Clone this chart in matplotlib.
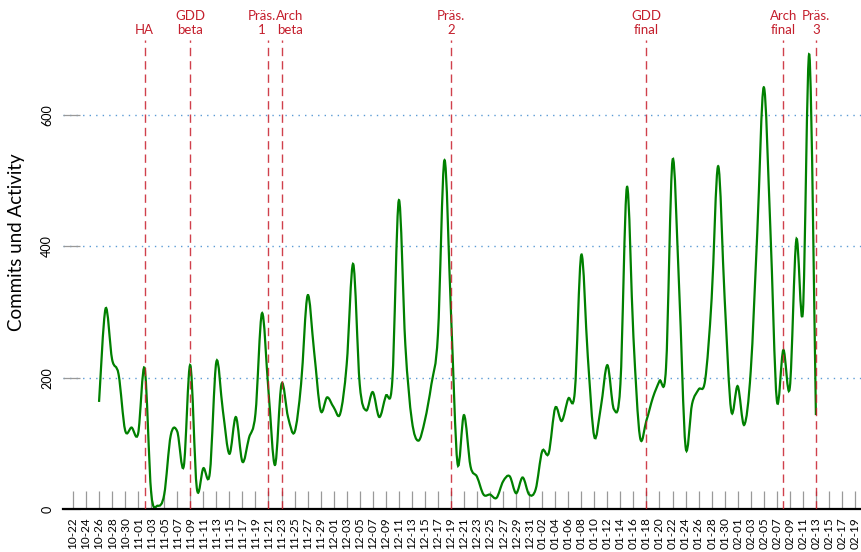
import numpy as np
import pandas as pd
import matplotlib
matplotlib.use('Agg')
import matplotlib.pyplot as plt
import matplotlib.dates as mdates
from matplotlib.path import Path
from matplotlib.patches import PathPatch

plt.rcParams['font.family'] = ['Lato', 'DejaVu Sans']

# Daten: Commits und Activity pro Tag (26.10. bis 13.02.)
tage = pd.date_range('2012-10-26', '2013-02-13', freq='D')
commits = [
    163, 305, 228, 205, 120, 124, 115,                      # 10-26 .. 11-01
    214, 25, 5, 22, 112, 118, 65, 219, 32, 62, 55, 224,     # 11-02 .. 11-13
    150, 84, 140, 72, 108, 145, 298, 180, 67, 190, 140,     # 11-14 .. 11-24
    117, 190, 325, 240, 150, 170,                           # 11-25 .. 11-30
    155, 145, 220, 373, 190, 150, 178, 140, 172, 195, 470,  # 12-01 .. 12-11
    250, 135, 104, 135, 190, 265, 531, 300, 70, 143, 65,    # 12-12 .. 12-22
    49, 22, 22, 17, 42, 50, 24, 48, 22,                     # 12-23 .. 12-31
    30, 88, 85, 154, 134, 168, 178, 387, 232, 110, 155,     # 01-01 .. 01-11
    219, 152, 190, 490, 262, 110, 135, 170, 195, 215, 531,  # 01-12 .. 01-22
    340, 95, 160, 182, 196, 320, 522, 320, 150,             # 01-23 .. 01-31
    187, 128, 210, 420, 642, 430, 166, 242, 185, 410, 300,  # 02-01 .. 02-11
    691, 143,                                               # 02-12 .. 02-13
]

# Meilensteine
meilensteine = pd.to_datetime(['2012-11-02', '2012-11-09', '2012-11-21', '2012-11-23',
                               '2012-12-19', '2013-01-18', '2013-02-08', '2013-02-13'])
meilenstein_namen = ['HA', 'GDD\nbeta', 'Präs.\n1', 'Arch\nbeta',
                     'Präs.\n2', 'GDD\nfinal', 'Arch\nfinal', 'Präs.\n3']
versatz = [0, 0, -4.5, 6, 0, 0, 0, 0]  # Textverschiebung in pt

# Achsenbeschriftung alle 2 Tage
ticks = pd.date_range('2012-10-22', '2013-02-19', freq='2D')

fig = plt.figure(figsize=(8.61, 5.52), dpi=100)
ax = fig.add_axes([63 / 861, 43 / 552, 798 / 861, 469 / 552])

# geglaettete Linie (Catmull-Rom als Bezier-Pfad)
x = mdates.date2num(tage)
y = np.array(commits, dtype=float)
xp = np.concatenate([[x[0]], x, [x[-1]]])
yp = np.concatenate([[y[0]], y, [y[-1]]])
verts = [(x[0], y[0])]
codes = [Path.MOVETO]
for i in range(len(x) - 1):
    c1 = (xp[i + 1] + (xp[i + 2] - xp[i]) / 6, yp[i + 1] + (yp[i + 2] - yp[i]) / 6)
    c2 = (xp[i + 2] - (xp[i + 3] - xp[i + 1]) / 6, yp[i + 2] - (yp[i + 3] - yp[i + 1]) / 6)
    verts += [c1, c2, (xp[i + 2], yp[i + 2])]
    codes += [Path.CURVE4] * 3
ax.add_patch(PathPatch(Path(verts, codes), facecolor='none', edgecolor='#008000',
                       linewidth=1.6, zorder=2))

for d, name, dx in zip(meilensteine, meilenstein_namen, versatz):
    ax.axvline(d, color='#c81e2c', linestyle=(0, (6, 3.6)), linewidth=1.0,
               alpha=0.85, zorder=3)
    ax.annotate(name, xy=(d, 1), xycoords=('data', 'axes fraction'),
                xytext=(dx, 3), textcoords='offset points', ha='center', va='bottom',
                color='#c41e2c', fontsize=9.5, annotation_clip=False)

ax.set_xlim(mdates.date2num(ticks[0]) - 1.53, mdates.date2num(ticks[-1]) + 0.92)
ax.set_ylim(0, 714)

ax.set_xticks(ticks)
ax.xaxis.set_major_formatter(mdates.DateFormatter('%m-%d'))
ax.tick_params(axis='x', direction='in', length=13, width=0.9, color='#999999',
               labelrotation=90, labelsize=8.5, pad=6)
ax.set_yticks([0, 200, 400, 600])
ax.set_yticklabels(['0', '200', '400', '600'], rotation=90, va='center')
ax.tick_params(axis='y', direction='in', length=12, width=0.9, color='#999999',
               labelsize=9, pad=7)

ax.yaxis.grid(True, linestyle=(0, (1, 3.7)), color='#5b9bd5', linewidth=1)
ax.set_axisbelow(True)

for s in ['left', 'top', 'right']:
    ax.spines[s].set_visible(False)
ax.spines['bottom'].set_linewidth(1.6)

ax.set_ylabel('Commits und Activity', fontsize=13.5)
ax.yaxis.set_label_coords(-0.048, 0.569)

fig.savefig('out.png', dpi=100)
